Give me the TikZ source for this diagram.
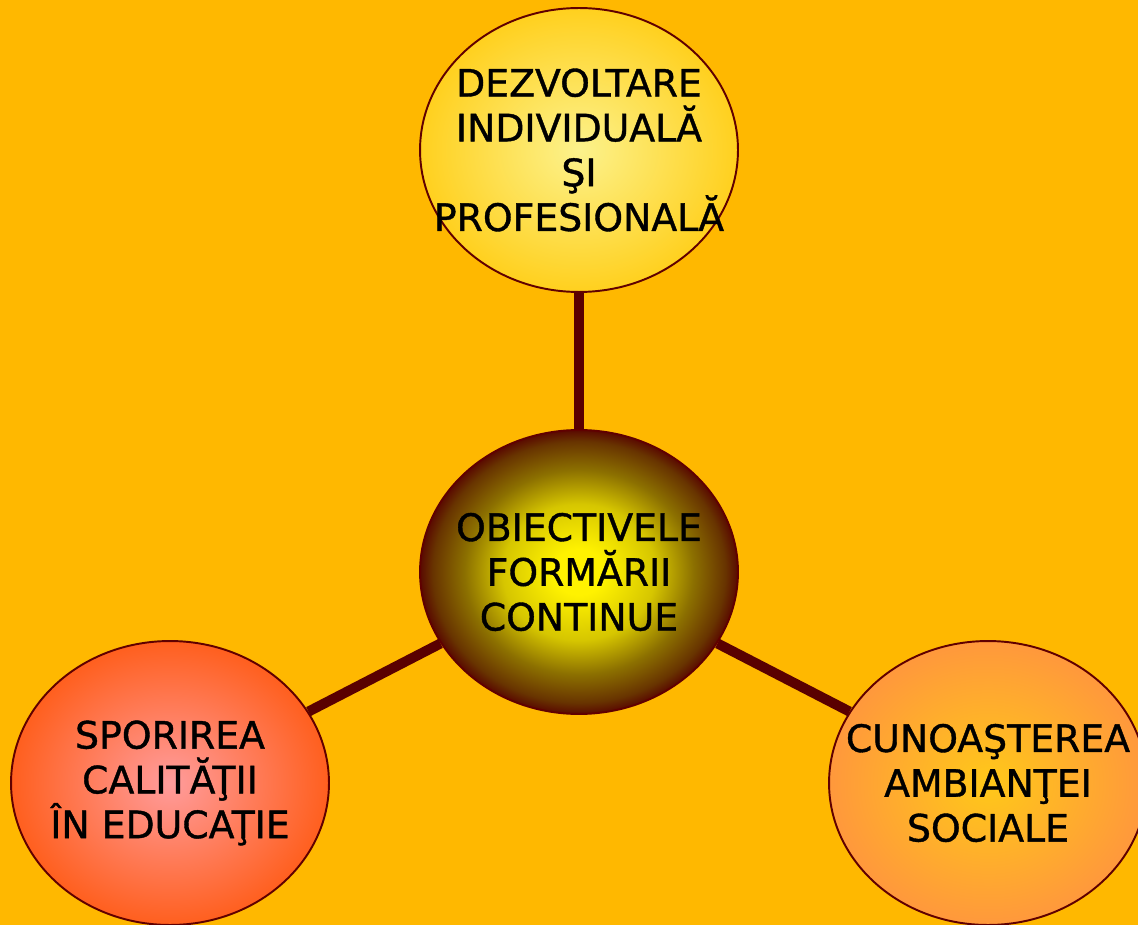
\documentclass[tikz,border=0pt]{standalone}
\usepackage{fontspec}
\setmainfont{DejaVu Sans}[FakeBold=1]
\usepackage{tikz}
\usepackage{xcolor}
\usetikzlibrary{shapes.geometric, positioning, calc}
\definecolor{bgOrange}{RGB}{255, 184, 0}
\definecolor{rimBrown}{RGB}{96, 0, 0}
\definecolor{linkBrown}{RGB}{90, 0, 0}
\definecolor{paleYellow}{RGB}{252, 242, 140}
\definecolor{sunYellow}{RGB}{255, 208, 30}
\definecolor{coreYellow}{RGB}{255, 242, 0}
\definecolor{coreMid}{RGB}{214, 198, 0}
\definecolor{coreOlive}{RGB}{140, 112, 0}
\definecolor{coreDusk}{RGB}{104, 52, 0}
\definecolor{coreBrown}{RGB}{90, 10, 0}
\definecolor{rosePink}{RGB}{255, 156, 156}
\definecolor{redOrange}{RGB}{255, 95, 30}
\definecolor{warmYellow}{RGB}{255, 200, 25}
\definecolor{softOrange}{RGB}{255, 152, 60}
\pgfdeclareradialshading{coreglow}{\pgfpoint{0bp}{0bp}}{color(0bp)=(coreYellow); color(4bp)=(coreYellow); color(12bp)=(coreMid); color(18bp)=(coreOlive); color(23bp)=(coreDusk); color(25bp)=(coreBrown); color(50bp)=(coreBrown)}

\begin{document}
\begin{tikzpicture}[x=0.02cm, y=-0.02cm,
    goal/.style={ellipse, draw=rimBrown, line width=1.1pt, minimum width=6.36cm, minimum height=5.68cm, align=center, inner sep=-3cm, text=black, font=\fontsize{21.5}{25.5}\selectfont},
    link/.style={linkBrown, line width=5.7pt}]
            % Background
            \fill[bgOrange] (0,0) rectangle (1138,925);
            \clip (0,0) rectangle (1138,925);

            % Centre ellipse
            \node[goal, shading=coreglow] at (579,572) (core) {
                OBIECTIVELE\\
                FORMĂRII\\
                CONTINUE
            };

            % Top ellipse
            \node[goal, inner color=paleYellow, outer color=sunYellow] at (579,150) (dev) {
                DEZVOLTARE\\
                INDIVIDUALĂ\\
                ŞI\\
                PROFESIONALĂ
            };

            % Left ellipse
            \node[goal, inner color=rosePink, outer color=redOrange] at (170,783) (quality) {
                SPORIREA\\
                CALITĂŢII\\
                ÎN EDUCAŢIE
            };

            % Right ellipse
            \node[goal, inner color=warmYellow, outer color=softOrange] at (988,783) (social) {
                CUNOAŞTEREA\\
                AMBIANŢEI\\
                SOCIALE
            };

            % Links
            \draw[link] (core) -- (dev);
            \draw[link] (core) -- (quality);
            \draw[link] (core) -- (social);
        \end{tikzpicture}
\end{document}
